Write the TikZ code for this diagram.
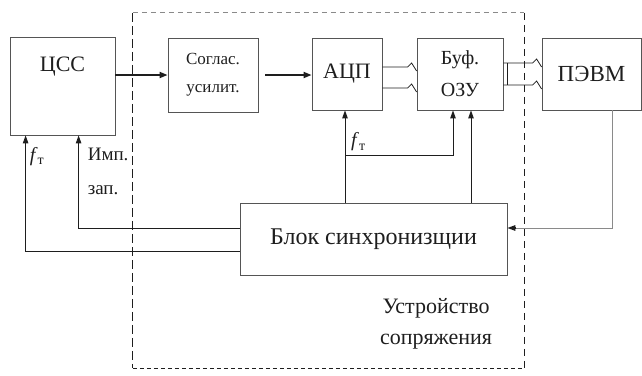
\documentclass[tikz,border=0pt]{standalone}
\usepackage{fontspec}
\setmainfont{Liberation Serif}
\usepackage{tikz}
\usetikzlibrary{arrows.meta,positioning,calc}
\definecolor{SchLine}{HTML}{555555}
\definecolor{SchInk}{HTML}{1E1E1E}
\definecolor{SchPale}{HTML}{8A8A8A}

\begin{document}
\begin{tikzpicture}[x=1pt,y=-1pt,
  unit/.style={draw=SchLine, line width=0.8pt, text=SchInk, align=center, inner sep=0pt},
  sig/.style={-{Triangle[length=8pt,width=6pt]}, line width=1.8pt, color=SchInk},
  ctl/.style={-{Triangle[length=8pt,width=5.5pt]}, line width=0.9pt, color=SchInk},
  bus/.style={line width=0.8pt, color=SchInk},
  txt/.style={text=SchInk, inner sep=0pt}
]
  \useasboundingbox (0,0) rectangle (642,375);

  \node[minimum width=391, minimum height=355, inner sep=0pt] (iface) at (328.5,190.5) {};
  \draw[SchPale, line width=0.8pt, dash pattern=on 5pt off 4pt] (iface.north west) -- (iface.north east);
  \draw[SchInk, line width=1.3pt, dash pattern=on 9pt off 4pt] (iface.north west) -- (iface.south west);
  \draw[SchInk, line width=1pt, dash pattern=on 7pt off 5pt] (iface.north east) -- (iface.south east);
  \draw[SchInk, line width=1.4pt, dash pattern=on 4pt off 3pt] (iface.south west) -- (iface.south east);

  \node[
    unit,
    minimum width=105,
    minimum height=98,
    label={[txt, anchor=north, yshift=-20pt, font=\fontsize{22}{24}\selectfont]north:ЦСС}
  ] (css) at (62.5,86) {};

  \node[
    unit,
    minimum width=90,
    minimum height=74,
    font=\fontsize{17}{28}\selectfont
  ] (sogl) at (213,75) {Соглас.\\усилит.};

  \node[
    unit,
    minimum width=70,
    minimum height=72,
    font=\fontsize{22}{24}\selectfont
  ] (adc) at (347,74) {АЦП};

  \node[
    unit,
    minimum width=86,
    minimum height=72,
    font=\fontsize{20}{32}\selectfont
  ] (buf) at (460,74) {Буф.\\ОЗУ};

  \node[
    unit,
    minimum width=99,
    minimum height=72,
    font=\fontsize{23}{24}\selectfont
  ] (pc) at (591.5,74) {ПЭВМ};

  \node[
    unit,
    minimum width=267,
    minimum height=72,
    font=\fontsize{24}{26}\selectfont
  ] (sync) at (373.5,239) {Блок синхронизщии};

  \node[
    txt,
    align=center,
    font=\fontsize{22}{31}\selectfont
  ] (title) at (436,324) {Устройство\\сопряжения};

  \draw[sig] (css.east |- sogl.west) -- (sogl.west);
  \draw[sig, shorten <=7pt] (sogl.east) -- (adc.west |- sogl.east);

  \draw[bus] ([yshift=7pt]adc.east) -- ([xshift=-9pt,yshift=7pt]buf.west) -- ++(4,-4) -- ([yshift=3pt]buf.west);
  \draw[bus] ([yshift=-14pt]adc.east) -- ([xshift=-9pt,yshift=-14pt]buf.west) -- ++(4,-4) -- ([yshift=-18pt]buf.west);
  \draw[bus] ([xshift=4pt,yshift=11pt]buf.east) -- ([xshift=4pt,yshift=-11pt]buf.east);
  \draw[bus] ([yshift=11pt]buf.east) -- ([xshift=-9pt,yshift=11pt]pc.west) -- ++(4,-4) -- ([yshift=7pt]pc.west);
  \draw[bus] ([yshift=-11pt]buf.east) -- ([xshift=-9pt,yshift=-11pt]pc.west) -- ++(4,-4) -- ([yshift=-15pt]pc.west);

  \coordinate (cssclk) at ([xshift=16pt]css.south west);
  \coordinate (csswr) at ([xshift=69pt]css.south west);
  \coordinate (bufclk) at ([xshift=-7pt]buf.south);
  \coordinate (bufwr) at ([xshift=11pt]buf.south);
  \coordinate (tap) at ([yshift=-45pt]adc.south);

  \draw[ctl] ([yshift=11pt]sync.west) -| (csswr);
  \draw[ctl] ([yshift=-12pt]sync.west) -| (cssclk);
  \draw[ctl] ([xshift=-2pt]adc.south |- sync.north) -- ([xshift=-2pt]adc.south);
  \draw[ctl] ([xshift=-2pt]tap) -| (bufclk);
  \draw[ctl] (bufwr |- sync.north) -- (bufwr);
  \draw[line width=0.7pt, SchPale] ([xshift=21pt]pc.south) |- ([yshift=11pt,xshift=8pt]sync.east);
  \draw[ctl, line width=1.3pt] ([yshift=11pt,xshift=9pt]sync.east) -- ([yshift=11pt]sync.east);

  \node[txt, font=\fontsize{20}{22}\selectfont, anchor=south west] (ftadc) at ([xshift=4pt,yshift=4pt]tap) {\textit{f}\textsubscript{т}};
  \node[txt, font=\fontsize{20}{22}\selectfont, anchor=north west] (ftcss) at ([xshift=4pt,yshift=-12pt]cssclk) {\textit{f}\textsubscript{т}};
  \node[txt, font=\fontsize{19}{34}\selectfont, align=left, anchor=north west] (wrlab) at ([xshift=9pt,yshift=-12pt]csswr) {Имп.\\зап.};

\end{tikzpicture}
\end{document}
